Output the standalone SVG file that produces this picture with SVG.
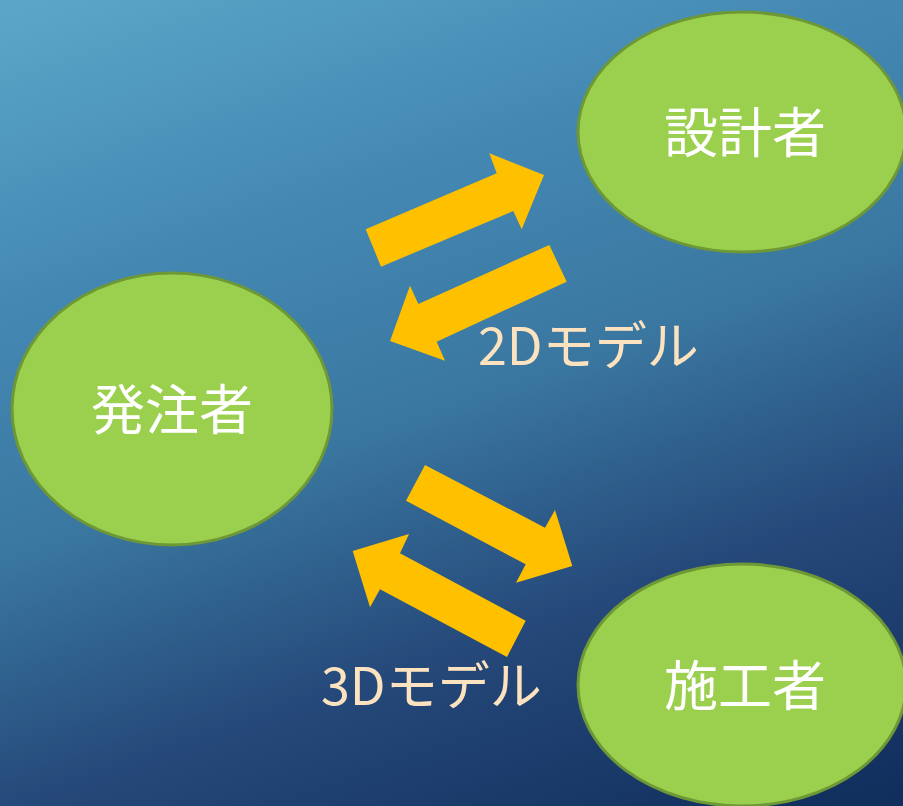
<svg xmlns="http://www.w3.org/2000/svg" width="903" height="806" viewBox="0 0 903 806">
<defs>
<linearGradient id="bg" gradientUnits="userSpaceOnUse" x1="0" y1="0" x2="350" y2="1000">
<stop offset="0" stop-color="#5ca7c9"/>
<stop offset="0.28" stop-color="#4388b3"/>
<stop offset="0.5" stop-color="#3a77a0"/>
<stop offset="0.72" stop-color="#25497a"/>
<stop offset="1" stop-color="#102d5b"/>
</linearGradient>
<style>
.node{fill:#9bcf4e;stroke:#6e9836;stroke-width:3}
.nt{font-family:"Noto Sans CJK JP","Noto Sans",sans-serif;font-size:54px;fill:#ffffff;text-anchor:middle}
.lbl{font-family:"Noto Sans CJK JP","Noto Sans",sans-serif;font-size:52px;fill:#fde2bf}
.arrow{fill:#ffc000}
</style>
</defs>
<rect x="0" y="0" width="903" height="806" fill="url(#bg)"/>
<g id="connectors">
<polygon class="arrow" points="365.7,229.3 496.7,173.3 489.3,153.3 544,175 521.7,229.3 513.3,211 381,266.7"/>
<polygon class="arrow" points="566.7,281.7 436.7,341.7 445,360.7 390,341 410,285.7 418.3,304 549.3,245"/>
<polygon class="arrow" points="425,465 545,527.7 555,510 572.3,566 516,582.7 525.7,564.3 406,500.7"/>
<polygon class="arrow" points="525.7,620.7 400,553.3 409,534 352.7,551 370,607.3 380,589.3 507,657"/>
<text class="lbl" x="478" y="365">2Dモデル</text>
<text class="lbl" x="321" y="705">3Dモデル</text>
</g>
<g id="node-hacchusha">
<ellipse class="node" cx="172" cy="409" rx="160" ry="136"/>
<text class="nt" x="172" y="430">発注者</text>
</g>
<g id="node-sekkeisha">
<ellipse class="node" cx="742" cy="132" rx="164" ry="120"/>
<text class="nt" x="745" y="153">設計者</text>
</g>
<g id="node-sekosha">
<ellipse class="node" cx="742" cy="685" rx="164" ry="121"/>
<text class="nt" x="745" y="706">施工者</text>
</g>
</svg>
